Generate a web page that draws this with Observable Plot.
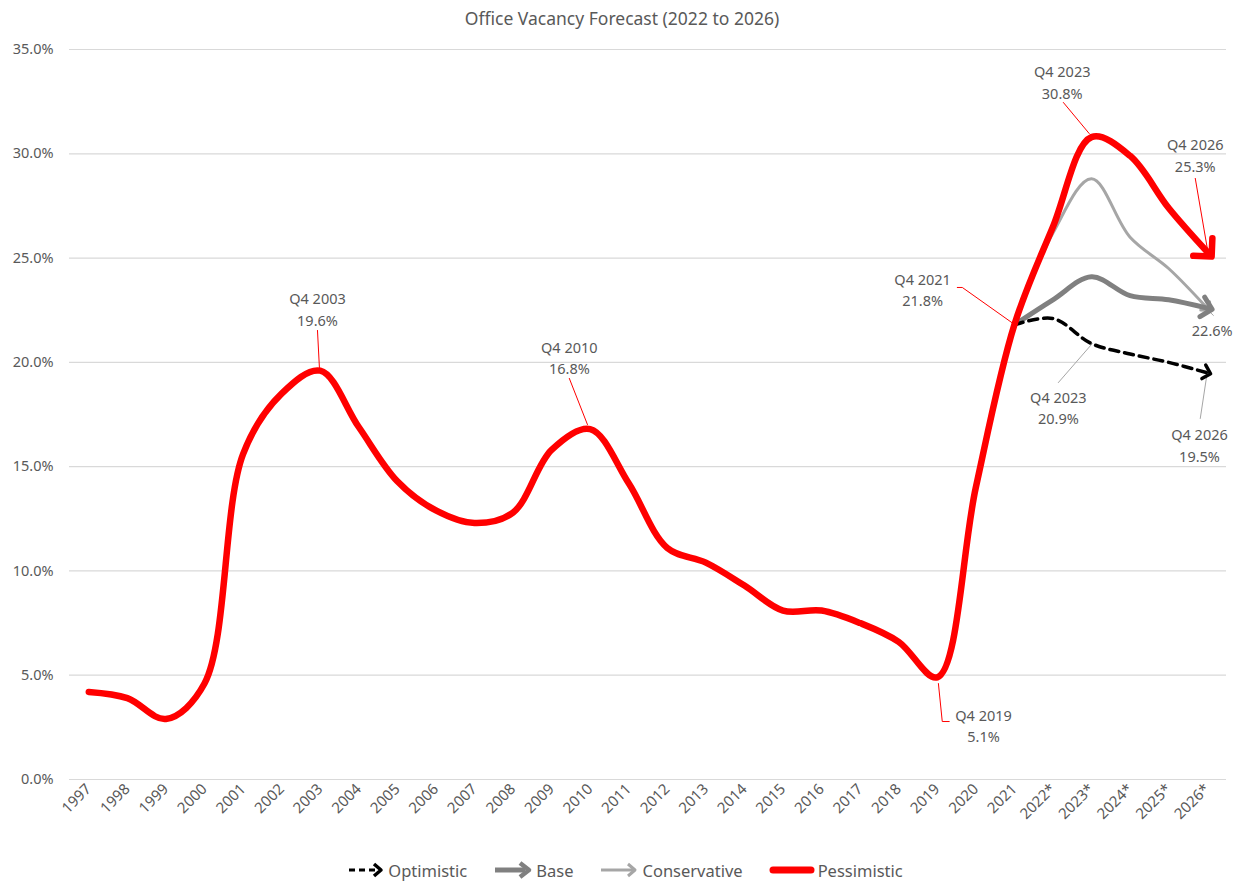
<!DOCTYPE html>
<html>
<head>
<meta charset="utf-8">
<script src="https://cdn.jsdelivr.net/npm/d3@7"></script>
<script src="https://cdn.jsdelivr.net/npm/@observablehq/plot@0.6"></script>
<style>
  body { margin: 0; background: #fff; font-family: "Noto Sans", sans-serif; }
  #title { height: 36px; line-height: 36px; text-align: center; font-size: 17.5px; color: #595959; }
  #legend { height: 28px; display: flex; align-items: center; justify-content: center; padding-left: 6px; font-size: 16.5px; color: #595959; }
  #legend .item { display: flex; align-items: center; margin: 0 13px; }
  #legend svg { margin-right: 3px; }
</style>
</head>
<body>
<div id="title">Office Vacancy Forecast (2022 to 2026)</div>
<div id="chart"></div>
<div id="legend"></div>
<script>
// ---- data ----
const years = ["1997","1998","1999","2000","2001","2002","2003","2004","2005","2006","2007","2008","2009","2010","2011","2012","2013","2014","2015","2016","2017","2018","2019","2020","2021","2022*","2023*","2024*","2025*","2026*"];
const pessimistic = [4.2,3.9,2.9,4.6,15.6,18.5,19.6,16.9,14.3,12.9,12.3,12.8,15.8,16.8,14.2,11.1,10.4,9.3,8.1,8.1,7.5,6.6,4.9,14.0,21.8,26.5,30.8,29.9,27.4,25.3];
const forecastYears = ["2021","2022*","2023*","2024*","2025*","2026*"];
const optimistic = [21.8,22.1,20.9,20.4,20.0,19.5];
const base = [21.8,23.0,24.1,23.2,23.0,22.6];
const conservative = [21.8,26.2,28.8,26.0,24.5,22.6];
const yTicks = [0,5,10,15,20,25,30,35];

// annotations: label text, anchor (index along the year axis, value in %)
const annoText = ["Q4 2003\n19.6%","Q4 2010\n16.8%","Q4 2019\n5.1%","Q4 2021\n21.8%","Q4 2023\n30.8%","Q4 2026\n25.3%","22.6%","Q4 2023\n20.9%","Q4 2026\n19.5%"];
const annoX = [5.93,12.46,23.2,21.62,25.24,28.69,29.13,25.14,28.8];
const annoY = [22.61,20.28,2.64,23.54,33.49,29.99,21.58,17.88,16.09];
// leader lines: each is a list of [index, value] points
const leaders = [
  {color:"#ff0000", pts:[[5.93,21.53],[5.98,19.75]]},
  {color:"#ff0000", pts:[[12.46,19.23],[12.93,17.02]]},
  {color:"#ff0000", pts:[[22.03,4.6],[22.13,2.78],[22.31,2.78]]},
  {color:"#ff0000", pts:[[22.52,23.59],[22.65,23.59],[23.97,21.86]]},
  {color:"#ff0000", pts:[[25.27,32.46],[25.94,30.97]]},
  {color:"#ff0000", pts:[[28.69,28.82],[29.02,25.27]]},
  {color:"#a6a6a6", pts:[[28.95,22.63],[29.16,22.25]]},
  {color:"#a6a6a6", pts:[[25.14,19.03],[26.02,20.9]]},
  {color:"#a6a6a6", pts:[[28.82,17.31],[29.0,19.51]]}
];

// ---- tables built from the arrays ----
const idx = y => years.indexOf(y);
const pessData = years.map((y,i) => ({x: i, v: pessimistic[i]}));
const fc = arr => forecastYears.map((y,i) => ({x: idx(y), v: arr[i]}));
const annoData = annoText.map((t,i) => ({t, x: annoX[i], y: annoY[i]}));
const leaderData = leaders.flatMap((l,k) => l.pts.map(p => ({k, color: l.color, x: p[0], y: p[1]})));

const plot = Plot.plot({
  width: 1244,
  height: 820,
  marginTop: 13,
  marginLeft: 69,
  marginRight: 18,
  marginBottom: 77,
  style: {fontFamily: "Noto Sans, sans-serif", fontSize: "14.5px", color: "#595959", background: "#fff"},
  x: {type: "linear", domain: [-0.5, years.length - 0.5]},
  y: {domain: [0, 35]},
  marks: [
    Plot.ruleY(yTicks, {stroke: "#d9d9d9", strokeWidth: 1.2}),
    Plot.axisY({ticks: yTicks, tickFormat: d => d.toFixed(1) + "%", tickSize: 0, tickPadding: 16, label: null, fill: "#595959", fontSize: 14.5}),
    Plot.axisX({ticks: d3.range(years.length), tickFormat: i => years[i], tickRotate: -45, tickSize: 0, tickPadding: 7, label: null, fill: "#595959", fontSize: 15}),
    Plot.line(leaderData, {x: "x", y: "y", z: "k", stroke: "color", strokeWidth: 1}),
    Plot.line(fc(conservative), {x: "x", y: "v", stroke: "#a6a6a6", strokeWidth: 3, curve: "catmull-rom", markerEnd: "arrow"}),
    Plot.line(fc(base), {x: "x", y: "v", stroke: "#808080", strokeWidth: 5, curve: "catmull-rom", markerEnd: "arrow"}),
    Plot.line(fc(optimistic), {x: "x", y: "v", stroke: "#000000", strokeWidth: 3.5, strokeDasharray: "9,6", curve: "catmull-rom", markerEnd: "arrow"}),
    Plot.line(pessData, {x: "x", y: "v", stroke: "#ff0000", strokeWidth: 6.5, curve: "catmull-rom", markerEnd: "arrow"}),
    Plot.text(annoData, {x: "x", y: "y", text: "t", fontSize: 14.5, fill: "#595959", lineHeight: 1.5, textAnchor: "middle"})
  ]
});
plot.querySelectorAll("marker, marker path").forEach(p => p.setAttribute("stroke-dasharray", "none"));
document.getElementById("chart").appendChild(plot);

// ---- legend ----
const legendItems = [
  {name: "Optimistic", svg: '<svg width="38" height="18"><line x1="2" y1="9" x2="28" y2="9" stroke="#000" stroke-width="3" stroke-dasharray="6,4"/><path d="M27,3 L34,9 L27,15" fill="none" stroke="#000" stroke-width="3.5" stroke-linejoin="round"/></svg>'},
  {name: "Base", svg: '<svg width="40" height="20"><line x1="2" y1="10" x2="32" y2="10" stroke="#808080" stroke-width="5"/><path d="M27,3 L36,10 L27,17" fill="none" stroke="#808080" stroke-width="4.5" stroke-linejoin="round"/></svg>'},
  {name: "Conservative", svg: '<svg width="40" height="18"><line x1="2" y1="9" x2="34" y2="9" stroke="#a6a6a6" stroke-width="3"/><path d="M29,3 L36,9 L29,15" fill="none" stroke="#a6a6a6" stroke-width="3" stroke-linejoin="round"/></svg>'},
  {name: "Pessimistic", svg: '<svg width="46" height="16"><line x1="4" y1="8" x2="42" y2="8" stroke="#ff0000" stroke-width="7" stroke-linecap="round"/></svg>'}
];
document.getElementById("legend").innerHTML = legendItems.map(d => `<div class="item">${d.svg}<span>${d.name}</span></div>`).join("");
</script>
</body>
</html>
